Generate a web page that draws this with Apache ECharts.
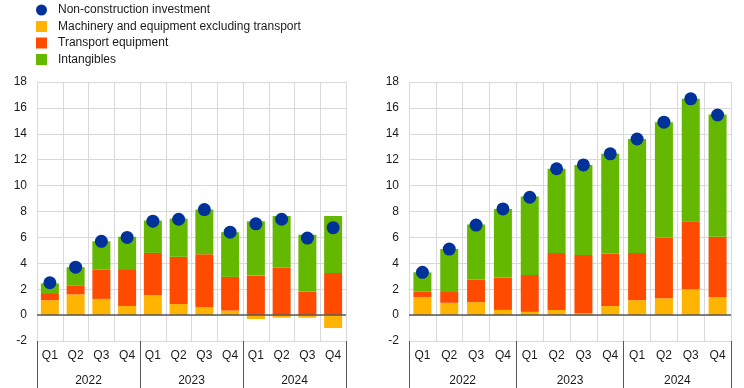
<!DOCTYPE html>
<html>
<head>
<meta charset="utf-8">
<script src="https://cdn.jsdelivr.net/npm/echarts@6/dist/echarts.min.js"></script>
<style>
html,body{margin:0;padding:0;background:#fff;}
#c{width:744px;height:388px;}
</style>
</head>
<body>
<div id="c"></div>
<script>
var quarters = ['Q1','Q2','Q3','Q4','Q1','Q2','Q3','Q4','Q1','Q2','Q3','Q4'];
var years = ['2022','2023','2024'];
var yTicks = {min: -2, max: 18, interval: 2};

// Left panel
var leftMachinery = [1.15, 1.6, 1.25, 0.7, 1.55, 0.85, 0.6, 0.35, -0.3, -0.2, -0.2, -1.0];
var leftTransport = [0.55, 0.7, 2.25, 2.85, 3.25, 3.65, 4.1, 2.6, 3.05, 3.65, 1.8, 3.25];
var leftIntangibles = [0.75, 1.4, 2.2, 2.5, 2.5, 2.95, 3.45, 3.45, 4.2, 4.0, 4.4, 4.4];
var leftTotal = [2.5, 3.7, 5.7, 6.0, 7.25, 7.4, 8.15, 6.4, 7.05, 7.4, 5.95, 6.75];

// Right panel
var rightMachinery = [1.4, 0.95, 1.0, 0.4, 0.25, 0.4, 0.15, 0.7, 1.15, 1.3, 2.0, 1.4];
var rightTransport = [0.4, 0.9, 1.75, 2.5, 2.85, 4.4, 4.5, 4.05, 3.65, 4.7, 5.25, 4.65];
var rightIntangibles = [1.5, 3.25, 4.25, 5.3, 6.05, 6.5, 6.95, 7.7, 8.8, 8.9, 9.45, 9.45];
var rightTotal = [3.3, 5.1, 6.95, 8.2, 9.1, 11.3, 11.6, 12.45, 13.6, 14.9, 16.7, 15.45];

var names = ['Non-construction investment', 'Machinery and equipment excluding transport', 'Transport equipment', 'Intangibles'];
var colors = {dot: '#003299', mach: '#FFB400', trans: '#FF4B00', intang: '#65B800'};

var FONT = 'Liberation Sans, Arial, sans-serif';
var gridColor = '#d9d9d9';

function xAxes(gi) {
  return [
    {
      type: 'category', gridIndex: gi, data: quarters, position: 'bottom', offset: 0,
      axisLine: {show: false}, axisTick: {show: false},
      axisLabel: {interval: 0, margin: 9, color: '#1a1a1a', fontSize: 12, fontFamily: FONT},
      splitLine: {show: true, interval: 0, lineStyle: {color: gridColor, width: 1}}
    },
    {
      type: 'category', gridIndex: gi, data: years, position: 'bottom', offset: 0,
      axisLine: {show: false},
      axisTick: {show: true, interval: 0, length: 47, lineStyle: {color: '#595959', width: 1}},
      axisLabel: {interval: 0, margin: 34, color: '#1a1a1a', fontSize: 12, fontFamily: FONT},
      splitLine: {show: false}
    }
  ];
}

function yAxis(gi) {
  return {
    type: 'value', gridIndex: gi, min: yTicks.min, max: yTicks.max, interval: yTicks.interval,
    axisLine: {show: false}, axisTick: {show: false},
    axisLabel: {margin: 10, color: '#1a1a1a', fontSize: 12, fontFamily: FONT},
    splitLine: {show: true, lineStyle: {color: gridColor, width: 1}}
  };
}

function seriesFor(gi, mach, trans, intang, total) {
  var xi = gi * 2, yi = gi;
  var stack = 'st' + gi;
  return [
    {
      name: names[1], type: 'bar', xAxisIndex: xi, yAxisIndex: yi, stack: stack,
      data: mach, barWidth: 18, itemStyle: {color: colors.mach},
      markLine: {silent: true, symbol: 'none', label: {show: false},
        lineStyle: {color: '#595959', width: 1.5, type: 'solid'}, data: [{yAxis: 0}]},
      z: 2
    },
    {
      name: names[2], type: 'bar', xAxisIndex: xi, yAxisIndex: yi, stack: stack,
      data: trans, barWidth: 18, itemStyle: {color: colors.trans}, z: 2
    },
    {
      name: names[3], type: 'bar', xAxisIndex: xi, yAxisIndex: yi, stack: stack,
      data: intang, barWidth: 18, itemStyle: {color: colors.intang}, z: 2
    },
    {
      name: names[0], type: 'scatter', xAxisIndex: xi, yAxisIndex: yi,
      data: total, symbol: 'circle', symbolSize: 13, itemStyle: {color: colors.dot, opacity: 1}, z: 5
    }
  ];
}

var chart = echarts.init(document.getElementById('c'), null, {renderer: 'canvas'});
chart.setOption({
  animation: false,
  backgroundColor: '#fff',
  legend: {
    orient: 'vertical', left: 31, top: -1, itemGap: 4.5, itemWidth: 11, itemHeight: 11,
    textStyle: {fontSize: 12, fontFamily: FONT, color: '#1a1a1a', padding: [0, 0, 0, 6], lineHeight: 12},
    data: [
      {name: names[0], icon: 'circle', itemStyle: {color: colors.dot, opacity: 1}},
      {name: names[1], icon: 'rect', itemStyle: {color: colors.mach}},
      {name: names[2], icon: 'rect', itemStyle: {color: colors.trans}},
      {name: names[3], icon: 'rect', itemStyle: {color: colors.intang}}
    ]
  },
  grid: [
    {left: 37, right: 398, top: 82, bottom: 47, containLabel: false},
    {left: 409, right: 13, top: 82, bottom: 47, containLabel: false}
  ],
  xAxis: xAxes(0).concat(xAxes(1)),
  yAxis: [yAxis(0), yAxis(1)],
  series: seriesFor(0, leftMachinery, leftTransport, leftIntangibles, leftTotal)
    .concat(seriesFor(1, rightMachinery, rightTransport, rightIntangibles, rightTotal))
});
</script>
</body>
</html>
